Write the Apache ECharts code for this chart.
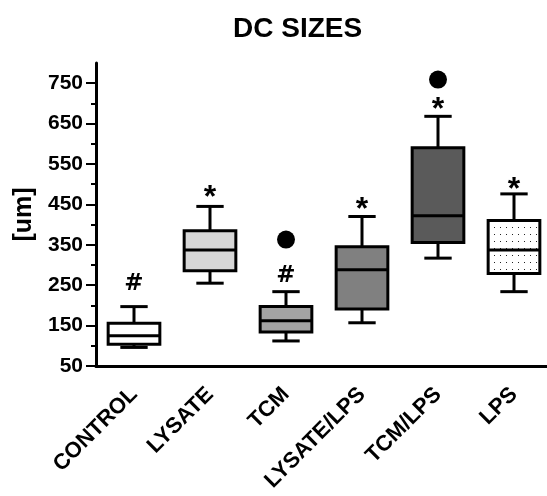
<!DOCTYPE html>
<html>
<head>
<meta charset="utf-8">
<script src="https://cdn.jsdelivr.net/npm/echarts@6/dist/echarts.min.js"></script>
<style>
  html, body { margin: 0; padding: 0; background: #fff; }
  #chart { width: 547px; height: 496px; }
</style>
</head>
<body>
<div id="chart"></div>
<script>
// groups
const categories = ["CONTROL", "LYSATE", "TCM", "LYSATE/LPS", "TCM/LPS", "LPS"];
// [min, q1, median, q3, max]
const boxValues = [
  [96, 104, 125, 156, 197],
  [255, 286, 337, 385, 445],
  [112, 134, 162, 197, 234],
  [157, 191, 288, 345, 420],
  [317, 356, 422, 590, 668],
  [234, 279, 337, 410, 476]
];
const boxFills = ["#ffffff", "#d6d6d6", "#a3a3a3", "#808080", "#5a5a5a", "dots"];
// significance marks above boxes
const markText = ["#", "*", "#", "*", "*", "*"];
const markValue = [252, 466, 272, 436, 684, 486];
// outlier dots
const dotCategory = [2, 4];
const dotValue = [363, 759];
const yTicks = [50, 150, 250, 350, 450, 550, 650, 750];

// dotted pattern for LPS
function makeDots() {
  const c = document.createElement("canvas");
  c.width = 6; c.height = 7;
  const ctx = c.getContext("2d");
  ctx.fillStyle = "#fff";
  ctx.fillRect(0, 0, 6, 7);
  ctx.fillStyle = "#222";
  ctx.fillRect(2, 3, 1, 1);
  return c;
}
const dotPattern = { image: makeDots(), repeat: "repeat" };

function renderBox(params, api) {
  const idx = api.value(0);
  const band = api.size([1, 0])[0];
  const boxW = band * 0.68;
  const capW = band * 0.36;
  const pMin = api.coord([idx, api.value(1)]);
  const pQ1 = api.coord([idx, api.value(2)]);
  const pMed = api.coord([idx, api.value(3)]);
  const pQ3 = api.coord([idx, api.value(4)]);
  const pMax = api.coord([idx, api.value(5)]);
  const x = pMed[0];
  const fill = boxFills[idx] === "dots" ? dotPattern : boxFills[idx];
  const ls = { stroke: "#000", lineWidth: 3 };
  return {
    type: "group",
    children: [
      { type: "line", shape: { x1: x, y1: pMax[1], x2: x, y2: pQ3[1] }, style: ls },
      { type: "line", shape: { x1: x, y1: pMin[1], x2: x, y2: pQ1[1] }, style: ls },
      { type: "line", shape: { x1: x - capW / 2, y1: pMax[1], x2: x + capW / 2, y2: pMax[1] }, style: ls },
      { type: "line", shape: { x1: x - capW / 2, y1: pMin[1], x2: x + capW / 2, y2: pMin[1] }, style: ls },
      {
        type: "rect",
        shape: { x: x - boxW / 2, y: pQ3[1], width: boxW, height: pQ1[1] - pQ3[1] },
        style: { fill: fill, stroke: "#000", lineWidth: 3 }
      },
      { type: "line", shape: { x1: x - boxW / 2, y1: pMed[1], x2: x + boxW / 2, y2: pMed[1] }, style: ls }
    ]
  };
}

const chart = echarts.init(document.getElementById("chart"));
const font = "Liberation Sans";
chart.setOption({
  animation: false,
  title: {
    text: "DC SIZES",
    left: 228,
    top: 10,
    textStyle: { fontFamily: font, fontSize: 28, fontWeight: "bold", color: "#000" }
  },
  grid: { left: 96, right: -5, top: 63, bottom: 130, outerBoundsMode: "none" },
  xAxis: {
    type: "category",
    data: categories,
    axisLine: { lineStyle: { color: "#000", width: 3 } },
    axisTick: { alignWithLabel: true, length: 10, lineStyle: { color: "#000", width: 2 } },
    axisLabel: { rotate: 45, margin: 25, color: "#000", fontFamily: font, fontSize: 22, fontWeight: "bold", interval: 0 }
  },
  yAxis: {
    type: "value",
    min: 50,
    max: 800,
    interval: 100,
    name: "[um]",
    nameLocation: "middle",
    nameRotate: 90,
    nameGap: 57,
    nameTextStyle: { fontFamily: font, fontSize: 25, fontWeight: "bold", color: "#000" },
    splitLine: { show: false },
    axisLine: { show: true, lineStyle: { color: "#000", width: 3 } },
    axisTick: { show: true, length: 10, customValues: yTicks, lineStyle: { color: "#000", width: 2 } },
    minorTick: { show: true, splitNumber: 2, length: 5, lineStyle: { color: "#000", width: 2 } },
    axisLabel: {
      customValues: yTicks,
      margin: 13,
      color: "#000",
      fontFamily: font,
      fontSize: 21,
      fontWeight: "bold"
    }
  },
  series: [
    {
      type: "custom",
      renderItem: renderBox,
      encode: { x: 0, y: [1, 2, 3, 4, 5] },
      data: boxValues.map((v, i) => [i].concat(v))
    },
    {
      type: "scatter",
      symbolSize: 18,
      itemStyle: { color: "#000", opacity: 1 },
      data: dotCategory.map((c, i) => [c, dotValue[i]])
    },
    {
      type: "scatter",
      symbolSize: 1,
      itemStyle: { color: "rgba(255,255,255,0)", opacity: 1 },
      label: {
        show: true,
        position: "inside",
        opacity: 1,
        color: "#000",
        formatter: (p) => markText[p.dataIndex] === "*" ? "{s|*}" : "{h|#}",
        rich: {
          s: { color: "#000", fontFamily: font, fontSize: 32, fontWeight: "bold" },
          h: { color: "#000", fontFamily: "DejaVu Sans", fontSize: 23, fontWeight: "bold" }
        }
      },
      data: markValue.map((v, i) => [i, v])
    }
  ]
});
</script>
</body>
</html>
